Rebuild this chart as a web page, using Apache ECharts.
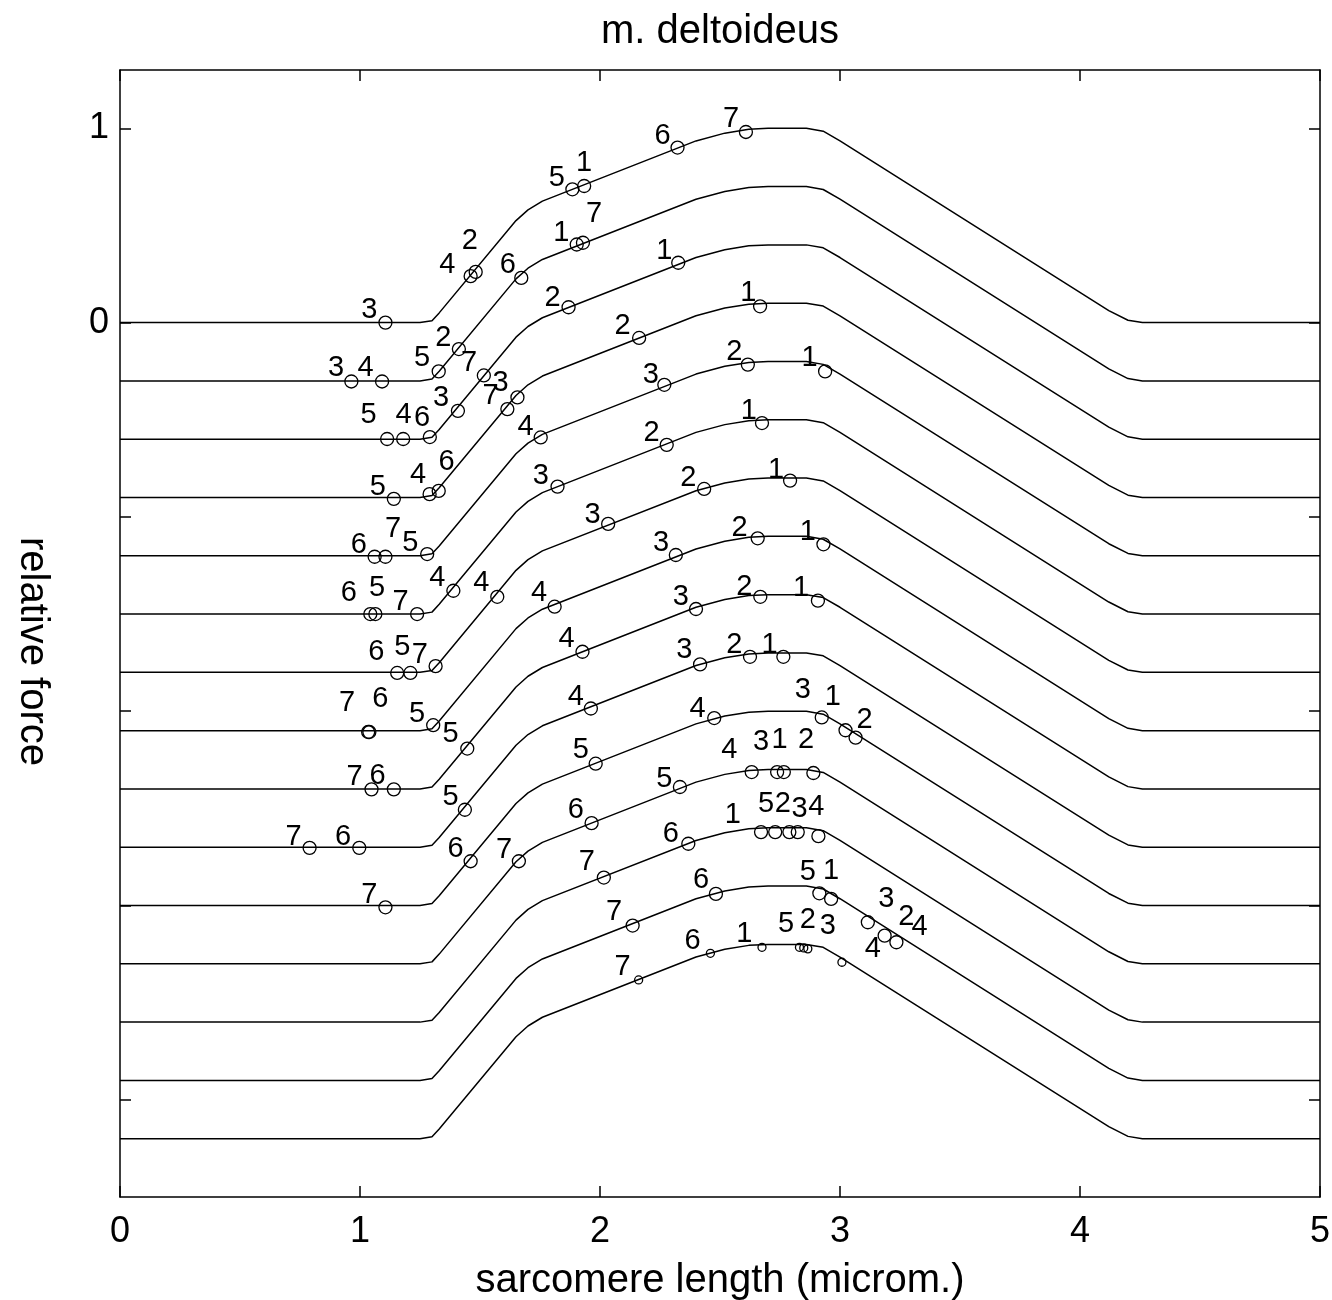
<!DOCTYPE html>
<html>
<head>
<meta charset="utf-8">
<title>m. deltoideus</title>
<script src="https://cdn.jsdelivr.net/npm/echarts@6/dist/echarts.min.js"></script>
<style>
  html, body { margin: 0; padding: 0; background: #fff; }
  #chart { width: 1332px; height: 1300px; }
</style>
</head>
<body>
<div id="chart"></div>
<script>
// force-length shape (relative force vs sarcomere length), same for every curve
const shapeX = [0, 1.25, 1.30, 1.33, 1.65, 1.70, 1.76, 2.40, 2.52, 2.62, 2.70, 2.86, 2.93, 3.00, 4.12, 4.20, 4.26, 5]
const shapeY = [0, 0, 0.01, 0.05, 0.525, 0.58, 0.625, 0.935, 0.975, 0.995, 1.0, 1.0, 0.985, 0.935, 0.062, 0.012, 0, 0]

// vertical offset of each stacked curve
const rowOffsets = [0, -0.3, -0.6, -0.9, -1.2, -1.5, -1.8, -2.1, -2.4, -2.7, -3.0, -3.3, -3.6, -3.9, -4.2]

// measured points per curve: [x, y, label, labelX, labelY]
const marks = [
  [[1.106, 0.000, '3', 1.039, 0.067], [1.461, 0.239, '4', 1.364, 0.299], [1.482, 0.261, '2', 1.458, 0.419],
   [1.885, 0.686, '5', 1.820, 0.746], [1.934, 0.703, '1', 1.934, 0.823], [2.323, 0.901, '6', 2.261, 0.960],
   [2.608, 0.981, '7', 2.546, 1.046]],
  [[0.964, -0.303, '3', 0.900, -0.234], [1.092, -0.303, '4', 1.023, -0.234], [1.328, -0.251, '5', 1.259, -0.182],
   [1.412, -0.136, '2', 1.347, -0.079], [1.672, 0.230, '6', 1.616, 0.299], [1.903, 0.402, '1', 1.839, 0.462],
   [1.929, 0.411, '7', 1.975, 0.557]],
  [[1.113, -0.599, '5', 1.036, -0.474], [1.180, -0.599, '4', 1.182, -0.474], [1.291, -0.589, '6', 1.259, -0.491],
   [1.408, -0.454, '3', 1.338, -0.388], [1.516, -0.272, '7', 1.454, -0.208], [1.869, 0.079, '2', 1.802, 0.127],
   [2.326, 0.308, '1', 2.268, 0.368]],
  [[1.141, -0.907, '5', 1.074, -0.844], [1.290, -0.883, '4', 1.242, -0.784], [1.328, -0.866, '6', 1.361, -0.715],
   [1.614, -0.445, '7', 1.544, -0.380], [1.656, -0.385, '3', 1.586, -0.311], [2.163, -0.079, '2', 2.094, -0.019],
   [2.667, 0.084, '1', 2.618, 0.153]],
  [[1.061, -1.205, '6', 0.995, -1.144], [1.106, -1.205, '7', 1.138, -1.063], [1.280, -1.191, '5', 1.210, -1.136],
   [1.753, -0.591, '4', 1.690, -0.535], [2.268, -0.320, '3', 2.212, -0.268], [2.616, -0.216, '2', 2.560, -0.153],
   [2.938, -0.251, '1', 2.873, -0.182]],
  [[1.043, -1.500, '6', 0.953, -1.393], [1.064, -1.500, '5', 1.071, -1.368], [1.238, -1.500, '7', 1.169, -1.437],
   [1.389, -1.380, '4', 1.322, -1.316], [1.823, -0.844, '3', 1.753, -0.792], [2.278, -0.629, '2', 2.215, -0.569],
   [2.675, -0.517, '1', 2.620, -0.457]],
  [[1.155, -1.803, '6', 1.068, -1.694], [1.210, -1.803, '5', 1.176, -1.669], [1.315, -1.768, '7', 1.249, -1.711],
   [1.572, -1.411, '4', 1.505, -1.342], [2.034, -1.036, '3', 1.969, -0.990], [2.434, -0.856, '2', 2.368, -0.801],
   [2.792, -0.813, '1', 2.734, -0.758]],
  [[1.034, -2.107, '7', 0.946, -1.960], [1.039, -2.107, '6', 1.085, -1.935], [1.305, -2.072, '5', 1.238, -2.012],
   [1.811, -1.462, '4', 1.746, -1.393], [2.316, -1.196, '3', 2.254, -1.136], [2.657, -1.110, '2', 2.581, -1.058],
   [2.931, -1.141, '1', 2.866, -1.076]],
  [[1.048, -2.402, '7', 0.977, -2.340], [1.141, -2.402, '6', 1.073, -2.335], [1.447, -2.192, '5', 1.377, -2.115],
   [1.927, -1.694, '4', 1.861, -1.630], [2.400, -1.474, '3', 2.337, -1.411], [2.668, -1.411, '2', 2.601, -1.359],
   [2.908, -1.431, '1', 2.838, -1.368]],
  [[0.790, -2.703, '7', 0.723, -2.648], [0.997, -2.703, '6', 0.929, -2.648], [1.437, -2.507, '5', 1.377, -2.442],
   [1.962, -1.986, '4', 1.899, -1.926], [2.417, -1.759, '3', 2.351, -1.686], [2.625, -1.720, '2', 2.560, -1.660],
   [2.764, -1.720, '1', 2.706, -1.660]],
  [[1.106, -3.009, '7', 1.039, -2.948], [1.461, -2.772, '6', 1.398, -2.708], [1.982, -2.270, '5', 1.920, -2.201],
   [2.476, -2.035, '4', 2.407, -1.986], [2.924, -2.032, '3', 2.845, -1.892], [3.023, -2.098, '1', 2.970, -1.926],
   [3.065, -2.136, '2', 3.102, -2.046]],
  [[1.662, -2.772, '7', 1.600, -2.716], [1.965, -2.576, '6', 1.899, -2.510], [2.333, -2.390, '5', 2.268, -2.347],
   [2.632, -2.313, '4', 2.539, -2.201], [2.738, -2.313, '3', 2.671, -2.158], [2.766, -2.313, '1', 2.748, -2.149],
   [2.889, -2.318, '2', 2.859, -2.149]],
  [[2.016, -2.856, '7', 1.945, -2.778], [2.368, -2.682, '6', 2.295, -2.630], [2.671, -2.622, '1', 2.553, -2.536],
   [2.730, -2.622, '5', 2.692, -2.476], [2.789, -2.622, '2', 2.762, -2.476], [2.824, -2.622, '3', 2.831, -2.502],
   [2.910, -2.643, '4', 2.901, -2.493]],
  [[2.136, -3.103, '7', 2.059, -3.035], [2.483, -2.940, '6', 2.421, -2.871], [2.914, -2.937, '5', 2.866, -2.828],
   [2.963, -2.966, '1', 2.963, -2.820], [3.116, -3.086, '3', 3.193, -2.966], [3.186, -3.155, '2', 3.276, -3.060],
   [3.235, -3.189, '4', 3.332, -3.112]],
  [[2.161, -3.383, '7', 2.094, -3.318], [2.460, -3.246, '6', 2.386, -3.180], [2.675, -3.215, '1', 2.601, -3.146],
   [2.831, -3.215, '5', 2.775, -3.095], [2.849, -3.218, '2', 2.866, -3.077], [2.866, -3.223, '3', 2.949, -3.103],
   [3.008, -3.292, '4', 3.137, -3.223]]
]

const xTicks = [0, 1, 2, 3, 4, 5]
const yTicks = [-4, -3, -2, -1, 0, 1]
const yTickLabels = [0, 1]

const font = "'Liberation Sans', Arial, Helvetica, sans-serif"

const chart = echarts.init(document.getElementById('chart'))

const series = []
rowOffsets.forEach((off) => {
  series.push({
    type: 'line',
    data: shapeX.map((x, i) => [x, +(shapeY[i] + off).toFixed(3)]),
    symbol: 'none',
    lineStyle: { color: '#000', width: 1.5 },
    silent: true,
    z: 2
  })
})

// circles
series.push({
  type: 'scatter',
  data: marks.flatMap((row, k) => row.map(m => [m[0], m[1], k])),
  symbol: 'circle',
  symbolSize: v => (v[2] === 14 ? 8 : 13),
  itemStyle: { color: 'rgba(0,0,0,0)', borderColor: '#000', borderWidth: 1.3, opacity: 1 },
  z: 3
})

// numbers next to the circles
series.push({
  type: 'scatter',
  data: marks.flatMap(row => row.map(m => ({ name: m[2], value: [m[3], m[4]] }))),
  symbolSize: 0,
  itemStyle: { opacity: 1 },
  label: {
    show: true,
    position: 'inside',
    formatter: '{b}',
    color: '#000',
    textBorderWidth: 0,
    fontSize: 29,
    fontFamily: font
  },
  z: 4
})

const axisLine = { show: true, onZero: false, lineStyle: { color: '#000', width: 1.5 } }
const axisTick = { show: true, inside: true, length: 11, lineStyle: { color: '#000', width: 1.5 } }
const nameStyle = { fontSize: 40, fontFamily: font, color: '#000' }

const option = {
  animation: false,
  backgroundColor: '#fff',
  grid: { left: 120, right: 12, top: 70, bottom: 103, outerBoundsMode: 'none' },
  xAxis: [
    {
      type: 'value',
      min: 0,
      max: 5,
      interval: 1,
      position: 'bottom',
      name: 'sarcomere length (microm.)',
      nameLocation: 'middle',
      nameGap: 64,
      nameTextStyle: nameStyle,
      axisLine,
      axisTick,
      splitLine: { show: false },
      axisLabel: {
        fontSize: 36, fontFamily: font, color: '#000', margin: 17,
        formatter: v => (xTicks.includes(v) ? String(v) : '')
      }
    },
    {
      type: 'value',
      min: 0,
      max: 5,
      interval: 1,
      position: 'top',
      name: 'm. deltoideus',
      nameLocation: 'middle',
      nameGap: 18,
      nameTextStyle: nameStyle,
      axisLine,
      axisTick,
      splitLine: { show: false },
      axisLabel: { show: false }
    }
  ],
  yAxis: [
    {
      type: 'value',
      min: -4.5,
      max: 1.3,
      position: 'left',
      name: 'relative force',
      nameLocation: 'middle',
      nameRotate: -90,
      nameGap: 68,
      nameTextStyle: Object.assign({}, nameStyle, { padding: [0, 0, 0, 36] }),
      axisLine,
      axisTick: Object.assign({}, axisTick, { customValues: yTicks }),
      splitLine: { show: false },
      axisLabel: {
        fontSize: 36, fontFamily: font, color: '#000', margin: 11,
        customValues: yTickLabels
      }
    },
    {
      type: 'value',
      min: -4.5,
      max: 1.3,
      position: 'right',
      axisLine,
      axisTick: Object.assign({}, axisTick, { customValues: yTicks }),
      splitLine: { show: false },
      axisLabel: { show: false }
    }
  ],
  series
}

chart.setOption(option)
</script>
</body>
</html>
